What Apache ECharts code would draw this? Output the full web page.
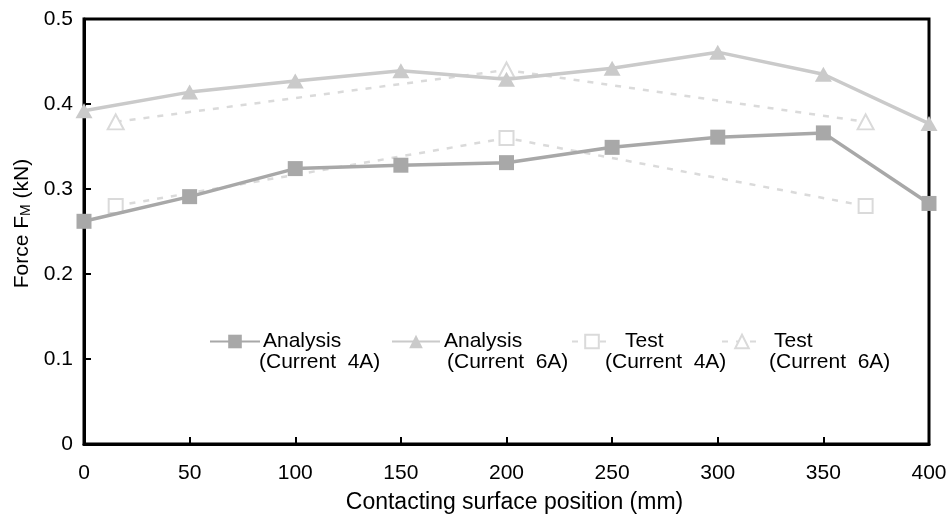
<!DOCTYPE html>
<html>
<head>
<meta charset="utf-8">
<script src="https://cdn.jsdelivr.net/npm/echarts@6/dist/echarts.min.js"></script>
<style>
html,body{margin:0;padding:0;background:#fff;}
#c{width:951px;height:519px;}
</style>
</head>
<body>
<div id="c"></div>
<script>
var positions = [0, 50, 100, 150, 200, 250, 300, 350, 400];
var analysis4A = [0.262, 0.291, 0.324, 0.328, 0.331, 0.349, 0.361, 0.366, 0.283];
var analysis6A = [0.392, 0.414, 0.427, 0.439, 0.429, 0.442, 0.461, 0.435, 0.377];
var testPositions = [15, 200, 370];
var test4A = [0.280, 0.360, 0.280];
var test6A = [0.379, 0.440, 0.379];
var xTicks = [0, 50, 100, 150, 200, 250, 300, 350, 400];
var yTicks = [0, 0.1, 0.2, 0.3, 0.4, 0.5];
var seriesNames = ['Analysis (Current 4A)', 'Analysis (Current 6A)', 'Test (Current 4A)', 'Test (Current 6A)'];
var legendLine1 = ['Analysis', 'Analysis', 'Test', 'Test'];
var legendLine2 = ['(Current  4A)', '(Current  6A)', '(Current  4A)', '(Current  6A)'];

function pairs(xs, ys) { return xs.map(function (x, i) { return [x, ys[i]]; }); }

var FONT = '"Liberation Sans", Arial, sans-serif';
var LH = 21;
// legend layout: [left, itemWidth, outerPadLeft, firstLinePad, secondLinePad]
var legendLayout = [
  [209, 50, -6, 4, 0],
  [391, 48, -1, 0, 3],
  [571, 40, -12, 20, 0],
  [721, 40, 2, 5, 0]
];
var legends = legendLayout.map(function (L, i) {
  return {
    show: true,
    left: L[0],
    top: 310,
    padding: 0,
    itemWidth: L[1],
    itemHeight: 17,
    selectedMode: false,
    data: [seriesNames[i]],
    formatter: function () { return '{a|' + legendLine1[i] + '}\n{b|' + legendLine2[i] + '}'; },
    textStyle: {
      fontFamily: FONT, fontSize: 21, color: '#000', lineHeight: LH,
      padding: [LH, 0, 0, L[2]],
      rich: {
        a: { fontFamily: FONT, fontSize: 21, color: '#000', lineHeight: LH, padding: [0, 0, 0, L[3]] },
        b: { fontFamily: FONT, fontSize: 21, color: '#000', lineHeight: LH, padding: [0, 0, 0, L[4]] }
      }
    }
  };
});

var chart = echarts.init(document.getElementById('c'), null, { renderer: 'canvas' });
chart.setOption({
  animation: false,
  backgroundColor: '#fff',
  textStyle: { fontFamily: FONT },
  grid: {
    left: 84, right: 22, top: 19, bottom: 70,
    show: true, borderColor: '#000', borderWidth: 3, backgroundColor: 'transparent'
  },
  legend: legends,
  xAxis: {
    type: 'value', min: xTicks[0], max: xTicks[xTicks.length - 1], interval: 50,
    name: 'Contacting surface position (mm)', nameLocation: 'middle', nameGap: 47,
    nameTextStyle: { fontFamily: FONT, fontSize: 23, color: '#000', padding: [0, 0, 0, 16] },
    axisLine: { show: true, lineStyle: { color: '#000', width: 3 } },
    axisTick: { show: true, inside: true, length: 7, lineStyle: { color: '#000', width: 2 } },
    axisLabel: { fontFamily: FONT, fontSize: 21, color: '#000', margin: 19 },
    splitLine: { show: false }
  },
  yAxis: {
    type: 'value', min: yTicks[0], max: yTicks[yTicks.length - 1], interval: 0.1,
    name: '{n|Force F}{sub|M}{n| (kN)}', nameLocation: 'middle', nameGap: 51,
    nameTextStyle: {
      fontFamily: FONT, fontSize: 21, color: '#000', padding: [0, 0, 0, 16],
      rich: {
        n: { fontFamily: FONT, fontSize: 21, color: '#000', lineHeight: 21 },
        sub: { fontFamily: FONT, fontSize: 14, color: '#000', lineHeight: 8, verticalAlign: 'bottom' }
      }
    },
    axisLine: { show: true, lineStyle: { color: '#000', width: 3 } },
    axisTick: { show: true, inside: true, length: 7, lineStyle: { color: '#000', width: 2 } },
    axisLabel: {
      fontFamily: FONT, fontSize: 21, color: '#000', margin: 11,
      formatter: function (v) { return v === 0 ? '0' : v.toFixed(1); }
    },
    splitLine: { show: false }
  },
  series: [
    {
      name: seriesNames[0], type: 'line', data: pairs(positions, analysis4A),
      symbol: 'rect', symbolSize: 15, clip: false, z: 4,
      lineStyle: { color: '#a8a8a8', width: 3.5 },
      itemStyle: { color: '#a8a8a8' }
    },
    {
      name: seriesNames[1], type: 'line', data: pairs(positions, analysis6A),
      symbol: 'triangle', symbolSize: [17, 15], clip: false, z: 4,
      lineStyle: { color: '#cacaca', width: 3.5 },
      itemStyle: { color: '#cacaca' }
    },
    {
      name: seriesNames[2], type: 'line', data: pairs(testPositions, test4A),
      symbol: 'emptyRect', symbolSize: 14, clip: false, z: 3,
      lineStyle: { color: '#dadada', width: 2.5, type: [6, 8] },
      itemStyle: { color: '#dadada', borderColor: '#dadada', borderWidth: 2 }
    },
    {
      name: seriesNames[3], type: 'line', data: pairs(testPositions, test6A),
      symbol: 'emptyTriangle', symbolSize: [16, 15], clip: false, z: 3,
      lineStyle: { color: '#dadada', width: 2.5, type: [6, 8] },
      itemStyle: { color: '#dadada', borderColor: '#dadada', borderWidth: 2 }
    }
  ]
});
</script>
</body>
</html>
